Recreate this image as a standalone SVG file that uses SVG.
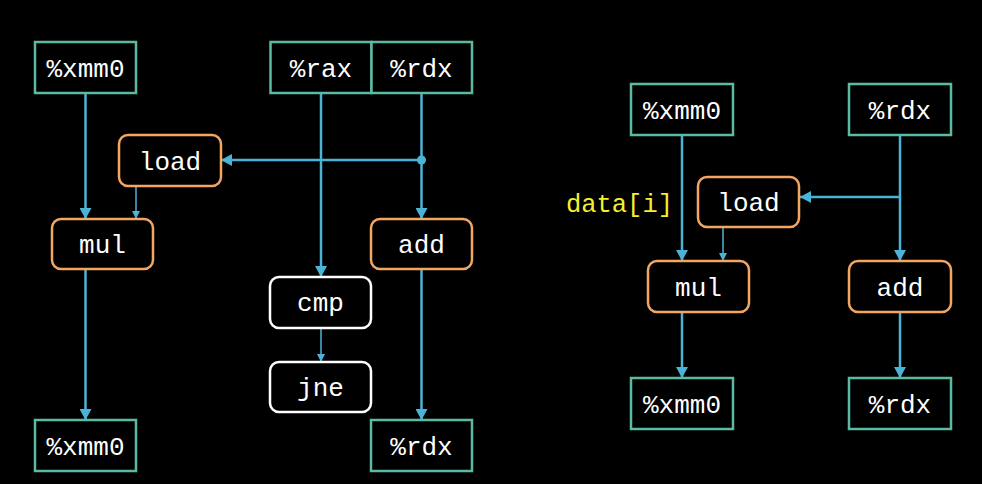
<svg xmlns="http://www.w3.org/2000/svg" width="982" height="484" viewBox="0 0 982 484">
<defs>
<style>
.reg{fill:#000;stroke:#5cbaa2;stroke-width:2.5}
.op{fill:#000;stroke:#f2a662;stroke-width:2.5}
.ctl{fill:#000;stroke:#ffffff;stroke-width:2.5}
.t{font-family:"Liberation Mono","DejaVu Sans Mono",monospace;font-size:26px;fill:#ffffff;text-anchor:middle}
.lbl{font-family:"Liberation Mono","DejaVu Sans Mono",monospace;font-size:25.5px;fill:#f5ef2e;text-anchor:end}
.e{fill:none;stroke:#4bb3d6;stroke-width:2.5}
.es{fill:none;stroke:#4bb3d6;stroke-width:1.5}
</style>
<marker id="ah" markerUnits="userSpaceOnUse" markerWidth="12" markerHeight="12" refX="11" refY="6" orient="auto">
<path d="M0,0 L11,6 L0,12 z" fill="#4bb3d6"/>
</marker>
<marker id="ahs" markerUnits="userSpaceOnUse" markerWidth="8" markerHeight="8" refX="8" refY="4" orient="auto">
<path d="M0,0 L8,4 L0,8 z" fill="#4bb3d6"/>
</marker>
</defs>
<rect width="982" height="484" fill="#000"/>
<g id="connectors">
<path class="e" d="M85.5,93 V219" marker-end="url(#ah)"/>
<path class="es" d="M136,186 V219" marker-end="url(#ahs)"/>
<path class="e" d="M421.5,93 V219" marker-end="url(#ah)"/>
<path class="e" d="M421.5,160 H221" marker-end="url(#ah)"/>
<circle cx="421.5" cy="160" r="4.5" fill="#4bb3d6"/>
<path class="e" d="M321,93 V277" marker-end="url(#ah)"/>
<path class="es" d="M321,328 V362" marker-end="url(#ahs)"/>
<path class="e" d="M85.5,269 V420" marker-end="url(#ah)"/>
<path class="e" d="M421.5,269 V420" marker-end="url(#ah)"/>
<path class="e" d="M682,135 V261" marker-end="url(#ah)"/>
<path class="es" d="M723,227 V261" marker-end="url(#ahs)"/>
<path class="e" d="M900,135 V261" marker-end="url(#ah)"/>
<path class="e" d="M900,197 H800" marker-end="url(#ah)"/>
<path class="e" d="M682,312 V378" marker-end="url(#ah)"/>
<path class="e" d="M900,312 V378" marker-end="url(#ah)"/>
</g>
<g id="L_xmm0_in"><rect class="reg" x="35" y="42" width="101" height="51"/><text class="t" x="85.5" y="76.5">%xmm0</text></g>
<g id="L_rax_in"><rect class="reg" x="270.5" y="42" width="101" height="51"/><text class="t" x="321" y="76.5">%rax</text></g>
<g id="L_rdx_in"><rect class="reg" x="371.5" y="42" width="100.5" height="51"/><text class="t" x="421.5" y="76.5">%rdx</text></g>
<g id="L_load"><rect class="op" x="119" y="135" width="102" height="51" rx="9"/><text class="t" x="170" y="169.5">load</text></g>
<g id="L_mul"><rect class="op" x="52" y="219" width="101" height="50" rx="9"/><text class="t" x="102.5" y="253">mul</text></g>
<g id="L_add"><rect class="op" x="371" y="219" width="101" height="50" rx="9"/><text class="t" x="421.5" y="253">add</text></g>
<g id="L_cmp"><rect class="ctl" x="270" y="277" width="101" height="51" rx="9"/><text class="t" x="320.5" y="311">cmp</text></g>
<g id="L_jne"><rect class="ctl" x="270" y="362" width="101" height="50" rx="9"/><text class="t" x="320.5" y="395.5">jne</text></g>
<g id="L_xmm0_out"><rect class="reg" x="35" y="420" width="101" height="51"/><text class="t" x="85.5" y="454.5">%xmm0</text></g>
<g id="L_rdx_out"><rect class="reg" x="371" y="420" width="101" height="51"/><text class="t" x="421.5" y="454.5">%rdx</text></g>
<g id="R_xmm0_in"><rect class="reg" x="631" y="84" width="102" height="51"/><text class="t" x="682" y="118.5">%xmm0</text></g>
<g id="R_rdx_in"><rect class="reg" x="849" y="84" width="102" height="51"/><text class="t" x="900" y="118.5">%rdx</text></g>
<g id="R_load"><rect class="op" x="698" y="177" width="101" height="50" rx="9"/><text class="t" x="748.5" y="211">load</text></g>
<g id="R_label"><text class="lbl" x="673" y="212">data[i]</text></g>
<g id="R_mul"><rect class="op" x="648" y="261" width="101" height="51" rx="9"/><text class="t" x="698.5" y="295.5">mul</text></g>
<g id="R_add"><rect class="op" x="849" y="261" width="102" height="51" rx="9"/><text class="t" x="900" y="295.5">add</text></g>
<g id="R_xmm0_out"><rect class="reg" x="631" y="378" width="102" height="51"/><text class="t" x="682" y="412.5">%xmm0</text></g>
<g id="R_rdx_out"><rect class="reg" x="849" y="378" width="102" height="51"/><text class="t" x="900" y="412.5">%rdx</text></g>
</svg>
